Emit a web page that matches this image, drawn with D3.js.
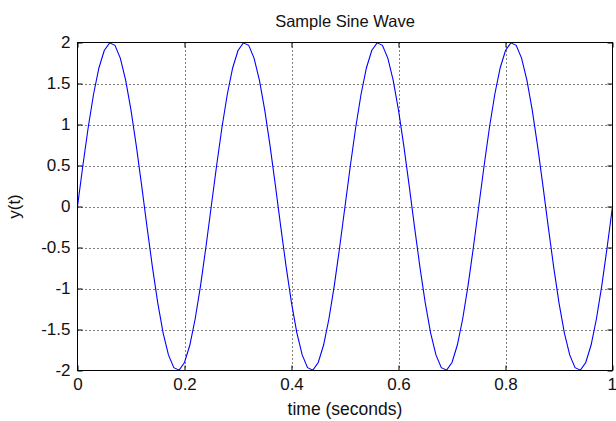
<!DOCTYPE html>
<html><head><meta charset="utf-8">
<script src="https://cdn.jsdelivr.net/npm/d3@7"></script>
<style>
html,body{margin:0;padding:0;background:#fff;}
svg text{font-family:"Liberation Sans",Arial,sans-serif;fill:#111;}
</style></head>
<body>
<svg id="c" width="616" height="421"></svg>
<script>
// time samples (seconds), step 0.01
const time = [0,0.01,0.02,0.03,0.04,0.05,0.06,0.07,0.08,0.09,0.10,0.11,0.12,0.13,0.14,0.15,0.16,0.17,0.18,0.19,0.20,0.21,0.22,0.23,0.24,
0.25,0.26,0.27,0.28,0.29,0.30,0.31,0.32,0.33,0.34,0.35,0.36,0.37,0.38,0.39,0.40,0.41,0.42,0.43,0.44,0.45,0.46,0.47,0.48,0.49,
0.50,0.51,0.52,0.53,0.54,0.55,0.56,0.57,0.58,0.59,0.60,0.61,0.62,0.63,0.64,0.65,0.66,0.67,0.68,0.69,0.70,0.71,0.72,0.73,0.74,
0.75,0.76,0.77,0.78,0.79,0.80,0.81,0.82,0.83,0.84,0.85,0.86,0.87,0.88,0.89,0.90,0.91,0.92,0.93,0.94,0.95,0.96,0.97,0.98,0.99,1.00];
// y(t) values
const yValues = [0,0.497,0.964,1.369,1.689,1.902,1.996,1.965,1.810,1.541,1.176,0.736,0.251,-0.251,-0.736,-1.176,-1.541,-1.810,-1.965,-1.996,-1.902,-1.689,-1.369,-0.964,-0.497,
0,0.497,0.964,1.369,1.689,1.902,1.996,1.965,1.810,1.541,1.176,0.736,0.251,-0.251,-0.736,-1.176,-1.541,-1.810,-1.965,-1.996,-1.902,-1.689,-1.369,-0.964,-0.497,
0,0.497,0.964,1.369,1.689,1.902,1.996,1.965,1.810,1.541,1.176,0.736,0.251,-0.251,-0.736,-1.176,-1.541,-1.810,-1.965,-1.996,-1.902,-1.689,-1.369,-0.964,-0.497,
0,0.497,0.964,1.369,1.689,1.902,1.996,1.965,1.810,1.541,1.176,0.736,0.251,-0.251,-0.736,-1.176,-1.541,-1.810,-1.965,-1.996,-1.902,-1.689,-1.369,-0.964,-0.497,0];
const xTicks = [0,0.2,0.4,0.6,0.8,1];
const xTickLabels = ["0","0.2","0.4","0.6","0.8","1"];
const yTicks = [-2,-1.5,-1,-0.5,0,0.5,1,1.5,2];
const yTickLabels = ["-2","-1.5","-1","-0.5","0","0.5","1","1.5","2"];
const titleText = "Sample Sine Wave";
const xLabelText = "time (seconds)";
const yLabelText = "y(t)";

const L=77.5, R=612.5, T=42.5, B=370.5;
const svg = d3.select("#c");
const x = d3.scaleLinear().domain([0,1]).range([L,R]);
const y = d3.scaleLinear().domain([-2,2]).range([B,T]);

// grid
const g = svg.append("g");
g.selectAll(".gx").data(xTicks.slice(1,-1)).enter().append("line")
 .attr("x1",d=>Math.round(x(d))+0.5).attr("x2",d=>Math.round(x(d))+0.5).attr("y1",T).attr("y2",B)
 .attr("stroke","#000").attr("stroke-width",1).attr("stroke-dasharray","1,3");
g.selectAll(".gy").data(yTicks.slice(1,-1)).enter().append("line")
 .attr("y1",d=>Math.round(y(d))+0.5).attr("y2",d=>Math.round(y(d))+0.5).attr("x1",L).attr("x2",R)
 .attr("stroke","#000").attr("stroke-width",1).attr("stroke-dasharray","1,3");

// line
const data = time.map((t,i)=>({t, v:yValues[i]}));
svg.append("defs").append("clipPath").attr("id","cp").append("rect")
 .attr("x",L).attr("y",T-1).attr("width",R-L).attr("height",B-T+2);
svg.append("path").datum(data).attr("clip-path","url(#cp)")
 .attr("d", d3.line().x(d=>x(d.t)).y(d=>y(d.v)))
 .attr("fill","none").attr("stroke","#0000ff").attr("stroke-width",1.1);

// axes with inward ticks
svg.append("g").attr("transform",`translate(0,${B})`)
 .call(d3.axisBottom(x).tickValues(xTicks).tickFormat((d,i)=>xTickLabels[i]).tickSizeInner(-5).tickSizeOuter(0).tickPadding(7))
 .call(s=>s.select(".domain").remove())
 .call(s=>s.selectAll("text").attr("font-size",17).attr("font-family","Liberation Sans, Arial"))
 .call(s=>s.selectAll("text").filter(d=>d===1).attr("text-anchor","end").attr("dx","4"));
svg.append("g").attr("transform",`translate(0,${T})`)
 .call(d3.axisTop(x).tickValues(xTicks).tickFormat("").tickSizeInner(-5).tickSizeOuter(0))
 .call(s=>s.select(".domain").remove());
svg.append("g").attr("transform",`translate(${L},0)`)
 .call(d3.axisLeft(y).tickValues(yTicks).tickFormat((d,i)=>yTickLabels[i]).tickSizeInner(-5).tickSizeOuter(0).tickPadding(7))
 .call(s=>s.select(".domain").remove())
 .call(s=>s.selectAll("text").attr("font-size",17).attr("font-family","Liberation Sans, Arial"));
svg.append("g").attr("transform",`translate(${R},0)`)
 .call(d3.axisRight(y).tickValues(yTicks).tickFormat("").tickSizeInner(-5).tickSizeOuter(0))
 .call(s=>s.select(".domain").remove());
svg.selectAll(".tick line").attr("stroke","#000");

// box
svg.append("rect").attr("x",L).attr("y",T).attr("width",R-L).attr("height",B-T)
 .attr("fill","none").attr("stroke","#000").attr("stroke-width",1);

// labels
svg.append("text").attr("x",(L+R)/2).attr("y",27).attr("text-anchor","middle").attr("font-size",16.5).text(titleText);
svg.append("text").attr("x",(L+R)/2).attr("y",415).attr("text-anchor","middle").attr("font-size",17.5).text(xLabelText);
svg.append("text").attr("transform",`translate(20,${(T+B)/2}) rotate(-90)`).attr("text-anchor","middle").attr("font-size",17).text(yLabelText);
</script>
</body></html>
